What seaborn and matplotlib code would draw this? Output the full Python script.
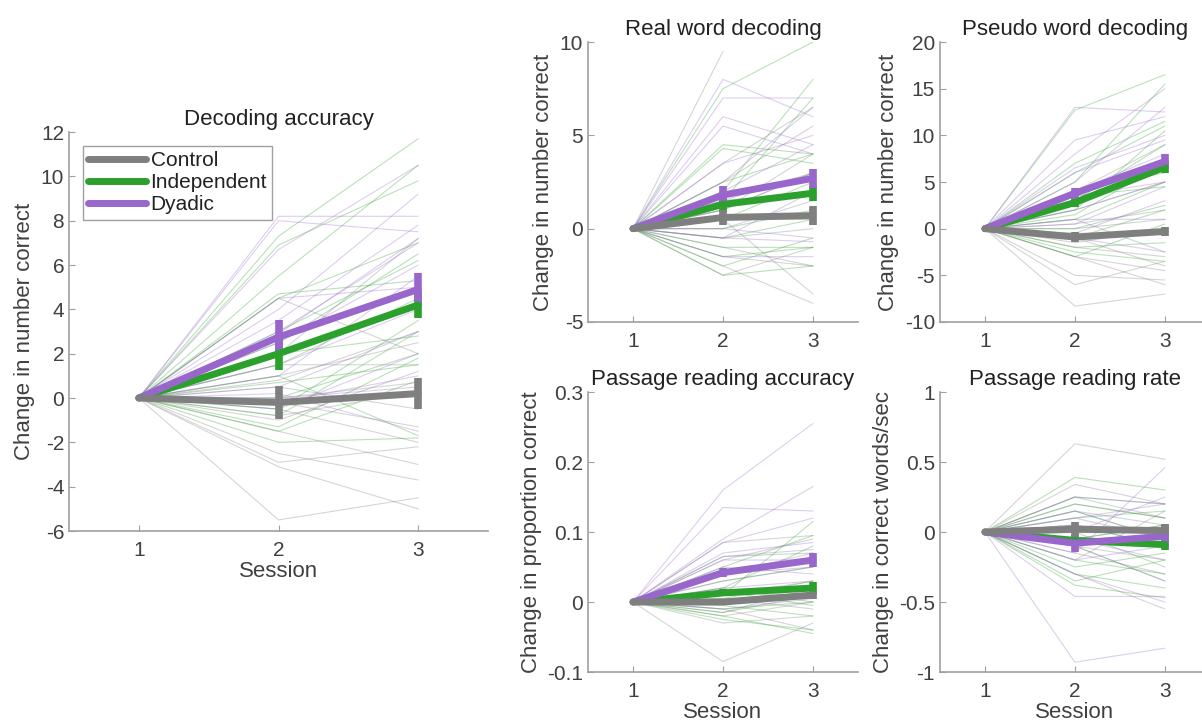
import numpy as np
import pandas as pd
import matplotlib
matplotlib.use('Agg')
import matplotlib.pyplot as plt
from matplotlib.lines import Line2D
import seaborn as sns

sns.set_style('ticks')
plt.rcParams['font.family'] = ['Liberation Sans', 'DejaVu Sans']
plt.rcParams['axes.unicode_minus'] = False

groups = ['Control', 'Independent', 'Dyadic']
colors = {'Control': '#7f7f7f', 'Independent': '#2ca02c', 'Dyadic': '#9966cc'}
sessions = [1, 2, 3]

# individual subjects: change at session 2 and session 3 (session 1 is 0)
dec_s2 = {
    'Control': [4.5, 1.0, 0.5, -0.5, -1.0, -2.5, -2.9, -3.1, -5.5, 0.0, -0.2, 0.8, 2.0, 1.5, -1.5, -0.8],
    'Independent': [7.3, 6.9, 5.5, 4.7, 4.5, 3.0, 2.0, 1.5, 0.7, 0.0, -0.5, -1.3, -1.5, -2.0, -0.8, 2.5, 1.0],
    'Dyadic': [8.2, 8.0, 6.7, 4.0, 3.5, 2.9, 2.5, 4.5, 1.0, 0.5, 0.2, -0.2, -0.5, 3.0, 1.5, 0.0],
}
dec_s3 = {
    'Control': [2.0, 2.5, -0.5, -2.0, 1.2, -3.7, -2.2, -5.0, -4.5, 0.7, -1.3, 3.0, 7.2, 1.5, -3.0, 0.3],
    'Independent': [11.7, 9.8, 10.5, 5.3, 7.0, 6.2, 2.8, 4.5, 1.5, 2.0, 3.5, 1.8, 0.8, -1.8, 3.0, 6.5, -1.7],
    'Dyadic': [8.2, 7.5, 10.5, 9.2, 7.8, 7.2, 6.0, 5.0, 5.5, 3.0, -1.5, 1.0, 2.0, 7.0, 4.0, 0.5],
}
real_s2 = {
    'Control': [9.5, 3.5, 2.5, 1.0, 0.5, -0.5, -1.0, -2.5, -2.0, 0.0, 1.5, -1.5, 0.5],
    'Independent': [7.5, 4.5, 4.3, 2.0, 1.5, 0.5, 0.0, -1.0, -2.0, -2.5, -0.5, 1.0, 2.5, -1.5],
    'Dyadic': [8.0, 7.0, 6.0, 5.5, 3.5, 2.5, 1.0, 0.0, -0.5, -1.5, 2.0, -0.5, 1.5],
}
real_s3 = {
    'Control': [np.nan, 6.5, 5.5, 4.0, -3.5, 0.0, -2.0, -1.0, -4.0, 1.5, 3.0, -2.0, 0.5],
    'Independent': [10.0, 4.0, 3.5, 8.0, 7.0, 2.5, 1.0, -1.0, -0.5, -2.0, 0.5, 3.0, 4.0, -1.0],
    'Dyadic': [6.0, 7.0, 4.5, 4.0, 5.0, 6.5, 3.0, -0.5, 2.0, -1.5, 4.5, -0.7, 2.0],
}
pseudo_s2 = {
    'Control': [-8.3, -6.0, -5.0, -3.0, -2.0, -1.0, 0.0, 1.0, -1.5, 0.5, 2.0, 4.0, -3.0, -0.5],
    'Independent': [12.7, 7.0, 5.0, 3.0, 2.0, 1.0, 0.0, -1.0, -2.0, -3.0, 4.0, 6.0, -2.5, 3.5, 1.5],
    'Dyadic': [13.0, 9.5, 8.0, 6.5, 5.0, 4.0, 3.0, 2.0, 0.5, -1.0, -0.5, 1.0, 6.0, 3.5],
}
pseudo_s3 = {
    'Control': [-7.0, -3.5, -5.5, -6.0, -3.0, -4.0, 1.0, -2.5, 0.0, 2.0, 5.0, 9.0, -4.5, -0.5],
    'Independent': [16.5, 11.5, 15.5, 9.0, 10.5, 5.0, 2.5, 2.0, -1.5, 0.5, 6.0, 11.0, -3.5, 4.5, 7.0],
    'Dyadic': [12.5, 12.0, 15.0, 10.0, 13.0, 8.0, 6.5, 5.0, 4.5, -2.5, 3.0, 1.0, 9.5, 5.0],
}
pacc_s2 = {
    'Control': [-0.085, -0.03, -0.02, 0.0, 0.01, 0.06, 0.085, -0.01, 0.02, -0.015, 0.04, 0.005],
    'Independent': [-0.025, -0.02, -0.01, 0.0, 0.01, 0.02, 0.03, 0.05, 0.065, -0.005, 0.005, 0.015, -0.015],
    'Dyadic': [0.16, 0.135, 0.09, 0.085, 0.07, 0.06, 0.05, 0.04, 0.02, 0.0, -0.01, 0.03, 0.065],
}
pacc_s3 = {
    'Control': [-0.03, -0.02, 0.0, 0.01, 0.03, 0.09, 0.095, -0.04, 0.0, 0.02, 0.05, -0.01],
    'Independent': [-0.04, -0.045, 0.0, 0.02, 0.115, 0.08, 0.05, 0.095, 0.07, -0.02, 0.03, -0.005, 0.01],
    'Dyadic': [0.255, 0.13, 0.165, 0.12, 0.085, 0.06, 0.04, 0.07, 0.03, 0.01, 0.005, 0.05, 0.075],
}
rate_s2 = {
    'Control': [0.63, 0.34, 0.25, 0.15, 0.05, 0.0, -0.1, -0.2, -0.3, -0.15, 0.1, 0.2, -0.05],
    'Independent': [0.39, 0.25, 0.2, 0.1, 0.0, -0.1, -0.2, -0.3, -0.38, -0.35, 0.05, -0.05, -0.25, 0.15],
    'Dyadic': [-0.93, -0.46, -0.3, -0.15, 0.0, 0.1, 0.15, -0.05, 0.05, -0.2, 0.25, -0.1],
}
rate_s3 = {
    'Control': [0.52, 0.2, 0.1, 0.05, -0.1, 0.0, -0.2, 0.15, -0.55, -0.3, -0.05, 0.1, 0.05],
    'Independent': [0.3, 0.2, 0.1, 0.15, -0.25, -0.35, -0.3, -0.4, -0.47, -0.2, -0.1, 0.05, -0.15, -0.05],
    'Dyadic': [-0.83, -0.46, -0.5, 0.46, 0.25, 0.2, -0.05, -0.2, 0.0, -0.1, 0.2, -0.35],
}

# group means and standard errors (sessions 1-3)
dec_mean = {'Control': [0, -0.2, 0.2], 'Independent': [0, 2.0, 4.2], 'Dyadic': [0, 2.75, 4.9]}
dec_err = {'Control': [0, 0.75, 0.7], 'Independent': [0, 0.75, 0.6], 'Dyadic': [0, 0.75, 0.75]}
real_mean = {'Control': [0, 0.6, 0.7], 'Independent': [0, 1.3, 1.9], 'Dyadic': [0, 1.8, 2.7]}
real_err = {'Control': [0, 0.4, 0.5], 'Independent': [0, 0.4, 0.4], 'Dyadic': [0, 0.5, 0.5]}
pseudo_mean = {'Control': [0, -0.9, -0.3], 'Independent': [0, 2.8, 6.6], 'Dyadic': [0, 3.8, 7.2]}
pseudo_err = {'Control': [0, 0.5, 0.5], 'Independent': [0, 0.5, 0.6], 'Dyadic': [0, 0.6, 0.8]}
pacc_mean = {'Control': [0, 0.0, 0.01], 'Independent': [0, 0.013, 0.02], 'Dyadic': [0, 0.042, 0.06]}
pacc_err = {'Control': [0, 0.004, 0.005], 'Independent': [0, 0.005, 0.008], 'Dyadic': [0, 0.006, 0.01]}
rate_mean = {'Control': [0, 0.02, 0.01], 'Independent': [0, -0.06, -0.09], 'Dyadic': [0, -0.08, -0.03]}
rate_err = {'Control': [0, 0.05, 0.05], 'Independent': [0, 0.04, 0.04], 'Dyadic': [0, 0.06, 0.08]}

txt = '#404040'
axc = '#a0a0a0'


def long_form(s2, s3):
    rows = []
    for g in groups:
        for i, (a, b) in enumerate(zip(s2[g], s3[g])):
            for s, v in zip(sessions, [0.0, a, b]):
                rows.append({'group': g, 'subject': g + str(i), 'session': s, 'change': v})
    return pd.DataFrame(rows)


def panel(ax, s2, s3, means, errs, title, ylabel, ylim, yticks, xlabel=True):
    df = long_form(s2, s3)
    sns.lineplot(data=df, x='session', y='change', hue='group', units='subject',
                 estimator=None, palette=colors, lw=0.8, alpha=0.32, legend=False, ax=ax)
    for g in ['Independent', 'Dyadic', 'Control']:
        ax.errorbar(sessions, means[g], yerr=errs[g], color=colors[g], lw=5,
                    elinewidth=5.5, capsize=0, zorder=5)
    ax.set_xlim(0.5, 3.5)
    ax.set_ylim(*ylim)
    ax.set_xticks(sessions)
    ax.set_yticks(yticks)
    ax.set_title(title, fontsize=16, color='#222222', pad=5)
    ax.set_ylabel(ylabel, fontsize=16, color=txt, labelpad=4)
    ax.set_xlabel('Session' if xlabel else '', fontsize=16, color=txt, labelpad=1)
    sns.despine(ax=ax)
    for sp in ['left', 'bottom']:
        ax.spines[sp].set_color(axc)
        ax.spines[sp].set_linewidth(1.2)
    ax.tick_params(direction='in', length=4, color=axc, labelsize=15, labelcolor=txt)
    ax.tick_params(axis='x', pad=7)


fig = plt.figure(figsize=(12.02, 7.28), dpi=100)
ax0 = fig.add_axes([0.0574, 0.2706, 0.3486, 0.548])
ax1 = fig.add_axes([0.4892, 0.5577, 0.2246, 0.3846])
ax2 = fig.add_axes([0.782, 0.5577, 0.2246, 0.3846])
ax3 = fig.add_axes([0.4892, 0.0769, 0.2246, 0.3846])
ax4 = fig.add_axes([0.782, 0.0769, 0.2246, 0.3846])

panel(ax0, dec_s2, dec_s3, dec_mean, dec_err, 'Decoding accuracy',
      'Change in number correct', (-6, 12), np.arange(-6, 13, 2))
panel(ax1, real_s2, real_s3, real_mean, real_err, 'Real word decoding',
      'Change in number correct', (-5, 10), [-5, 0, 5, 10], xlabel=False)
panel(ax2, pseudo_s2, pseudo_s3, pseudo_mean, pseudo_err, 'Pseudo word decoding',
      'Change in number correct', (-10, 20), np.arange(-10, 21, 5), xlabel=False)
panel(ax3, pacc_s2, pacc_s3, pacc_mean, pacc_err, 'Passage reading accuracy',
      'Change in proportion correct', (-0.1, 0.3), [-0.1, 0, 0.1, 0.2, 0.3])
ax3.set_yticklabels(['-0.1', '0', '0.1', '0.2', '0.3'])
panel(ax4, rate_s2, rate_s3, rate_mean, rate_err, 'Passage reading rate',
      'Change in correct words/sec', (-1, 1), [-1, -0.5, 0, 0.5, 1])
ax4.set_yticklabels(['-1', '-0.5', '0', '0.5', '1'])

handles = [Line2D([], [], color=colors[g], lw=5) for g in groups]
leg = ax0.legend(handles, groups, loc='upper left', bbox_to_anchor=(0.033, 0.965),
                 fontsize=15, frameon=True, fancybox=False, handlelength=2.8,
                 borderpad=0.25, labelspacing=0.15, handletextpad=0.2,
                 borderaxespad=0)
leg.get_frame().set_edgecolor('#888888')
leg.get_frame().set_linewidth(1.0)
for t in leg.get_texts():
    t.set_color('#222222')

fig.savefig('out.png', dpi=100)
